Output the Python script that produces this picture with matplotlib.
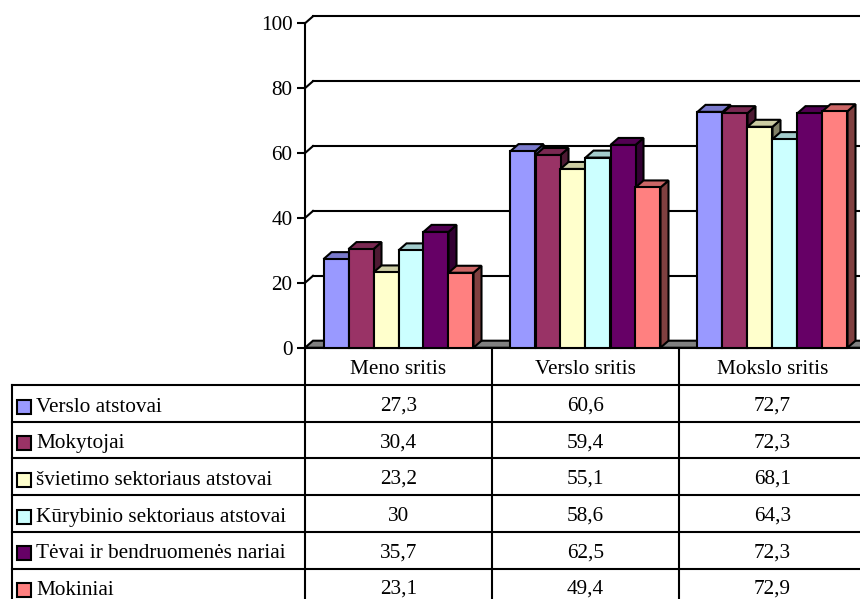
import matplotlib
matplotlib.use("Agg")
import matplotlib.pyplot as plt
from matplotlib.patches import Polygon, Rectangle
import numpy as np

# ---------------- data ----------------
categories = ["Meno sritis", "Verslo sritis", "Mokslo sritis"]
series_names = ["Verslo atstovai", "Mokytojai", "švietimo sektoriaus atstovai",
                "Kūrybinio sektoriaus atstovai", "Tėvai ir bendruomenės nariai", "Mokiniai"]
verslo_atstovai = [27.3, 60.6, 72.7]
mokytojai = [30.4, 59.4, 72.3]
svietimo_atstovai = [23.2, 55.1, 68.1]
kurybinio_atstovai = [30, 58.6, 64.3]
tevai_nariai = [35.7, 62.5, 72.3]
mokiniai = [23.1, 49.4, 72.9]
series_values = [verslo_atstovai, mokytojai, svietimo_atstovai,
                 kurybinio_atstovai, tevai_nariai, mokiniai]
y_ticks = [0, 20, 40, 60, 80, 100]

colors = ["#9999FF", "#993366", "#FFFFCC", "#CCFFFF", "#660066", "#FF8080"]

plt.rcParams['font.family'] = ['Liberation Serif', 'DejaVu Serif']
FS = 15.3
LW = 1.5

def shade(c, f):
    r, g, b = matplotlib.colors.to_rgb(c)
    return (r * f, g * f, b * f)

W, H = 860, 599
fig = plt.figure(figsize=(W / 100, H / 100), dpi=100)

# layout in pixels
ax_left, ax_right = 305, 866
ax_top, ax_bot = 23.3, 347.7
ax = fig.add_axes([ax_left / W, 1 - ax_bot / H, (ax_right - ax_left) / W, (ax_bot - ax_top) / H])
ax.patch.set_alpha(0)
ncat = len(categories)
ax.set_xlim(0, ncat)
ax.set_ylim(0, 100)
for s in ["top", "right", "bottom"]:
    ax.spines[s].set_visible(False)
ax.spines["left"].set_linewidth(LW)
ax.set_xticks([])
ax.set_yticks(y_ticks)
ax.set_yticklabels([str(t) for t in y_ticks])
ax.tick_params(axis="y", direction="out", length=6, width=LW, pad=3, labelsize=FS)

DX_PX, DY_PX = 8, 7
ddx = DX_PX / (ax_right - ax_left) * ncat
ddy = DY_PX / (ax_bot - ax_top) * 100

# back wall gridlines and diagonal tick connectors
for t in y_ticks[1:]:
    ax.plot([0, ddx], [t, t + ddy], color="black", lw=LW, clip_on=False, zorder=1)
    ax.plot([ddx, ncat + ddx], [t + ddy, t + ddy], color="black", lw=LW, clip_on=False, zorder=1)

# floor
ax.add_patch(Polygon([(0, 0), (ncat, 0), (ncat + ddx, ddy), (ddx, ddy)], closed=True,
                     facecolor="#808080", edgecolor="black", lw=LW, clip_on=False, zorder=2))

nser = len(series_names)
bw = 25 / 187
offset = (1 - nser * bw) / 2
z = 3
for i in range(ncat):
    for j in range(nser):
        v = series_values[j][i]
        x0 = i + offset + j * bw
        c = colors[j]
        ax.add_patch(Polygon([(x0 + bw, 0), (x0 + bw + ddx, ddy), (x0 + bw + ddx, v + ddy), (x0 + bw, v)],
                             closed=True, facecolor=shade(c, 0.5), edgecolor="black", lw=LW,
                             clip_on=False, zorder=z))
        ax.add_patch(Polygon([(x0, v), (x0 + bw, v), (x0 + bw + ddx, v + ddy), (x0 + ddx, v + ddy)],
                             closed=True, facecolor=shade(c, 0.8), edgecolor="black", lw=LW,
                             clip_on=False, zorder=z))
        ax.bar(x0, v, width=bw, align="edge", color=c, edgecolor="black", lw=LW,
               clip_on=False, zorder=z + 1)
        z += 2

# ---------------- data table ----------------
tab = fig.add_axes([0, 0, 1, 1], zorder=-1)
tab.set_xlim(0, W)
tab.set_ylim(H, 0)
tab.axis("off")

cat_w = (ax_right - ax_left) / ncat
col_x = [ax_left + k * cat_w for k in range(ncat + 1)]
label_left = 12
hdr_top, hdr_bot = ax_bot, 385
row_h = 36.7
row_y = [hdr_bot + k * row_h for k in range(nser + 1)]
bottom = H + 10

# vertical lines
for x in col_x:
    tab.plot([x, x], [hdr_top, bottom], color="black", lw=LW)
tab.plot([label_left, label_left], [hdr_bot, bottom], color="black", lw=LW)
# horizontal lines
tab.plot([col_x[0], col_x[-1]], [hdr_top, hdr_top], color="black", lw=LW)
for y in row_y:
    tab.plot([label_left, col_x[-1]], [y, y], color="black", lw=LW)

for i, cat in enumerate(categories):
    tab.text((col_x[i] + col_x[i + 1]) / 2, hdr_top + 26, cat, ha="center", va="baseline", fontsize=FS)

for j, name in enumerate(series_names):
    top = row_y[j]
    tab.add_patch(Rectangle((17, top + 14.5), 14, 14, facecolor=colors[j], edgecolor="black", lw=LW))
    tab.text(36.5, top + 26.5, name, ha="left", va="baseline", fontsize=FS)
    for i in range(ncat):
        v = series_values[j][i]
        tab.text((col_x[i] + col_x[i + 1]) / 2, top + 25.5, f"{v:g}".replace(".", ","),
                 ha="center", va="baseline", fontsize=FS)

fig.savefig("out.png", dpi=100)
